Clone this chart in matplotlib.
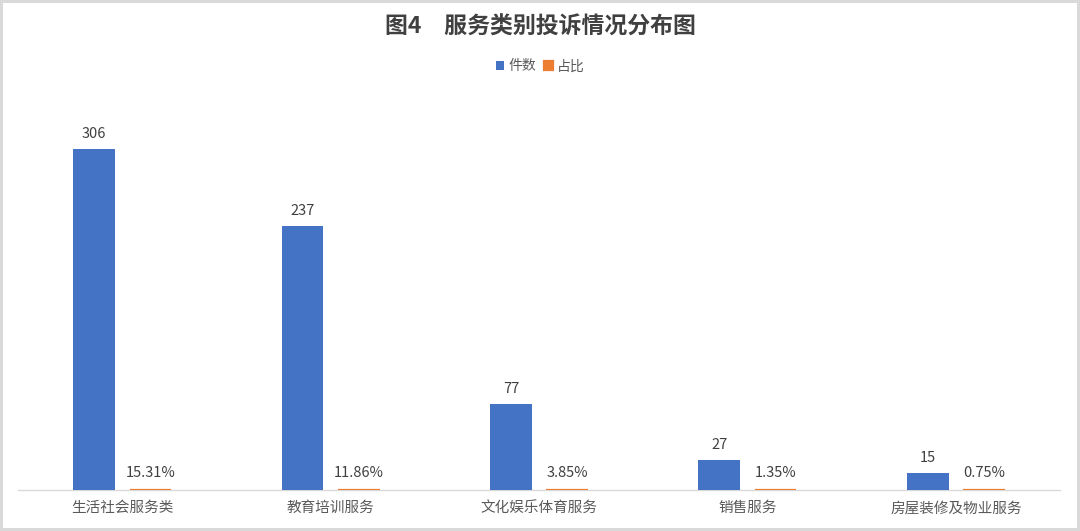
import matplotlib.pyplot as plt
import numpy as np

plt.rcParams['font.family'] = ['Noto Sans CJK SC', 'DejaVu Sans']

BLUE = "#4472C4"
ORANGE = "#ED7D31"
TEXT = "#595959"

categories = ["生活社会服务类", "教育培训服务", "文化娱乐体育服务", "销售服务", "房屋装修及物业服务"]
counts = [306, 237, 77, 27, 15]
shares = [0.1531, 0.1186, 0.0385, 0.0135, 0.0075]

fig = plt.figure(figsize=(10.8, 5.31), dpi=100)
fig.patch.set_facecolor("white")
fig.patch.set_edgecolor("#d9d9d9")
fig.patch.set_linewidth(3)
ax = fig.add_axes([0.0167, 0.0772, 0.9648, 0.7345])

x = np.arange(len(categories))
w = 0.2
off = 0.135
b1 = ax.bar(x - off, counts, w, color=BLUE, label="件数", zorder=3)
b2 = ax.bar(x + off, shares, w, color=ORANGE, edgecolor=ORANGE, linewidth=1.6,
            label="占比", zorder=3)

for xi, v in zip(x, counts):
    ax.annotate(f"{v}", (xi - off, v), xytext=(0, 6), textcoords="offset points",
                ha="center", va="bottom", fontsize=10.5, color="#404040")
for xi, v in zip(x, shares):
    ax.annotate(f"{v * 100:.2f}%", (xi + off, v), xytext=(0, 7), textcoords="offset points",
                ha="center", va="bottom", fontsize=10.5, color="#404040")

ax.set_xlim(-0.5, len(categories) - 0.5)
ax.set_ylim(0, 350)
ax.set_yticks([])
ax.set_xticks(x)
ax.set_xticklabels(categories, fontsize=10.5, color=TEXT)
ax.tick_params(axis="x", length=0, pad=8)
for side in ["top", "right", "left"]:
    ax.spines[side].set_visible(False)
ax.spines["bottom"].set_color("#d9d9d9")
ax.spines["bottom"].set_linewidth(1)

fig.text(0.5, 0.948, "图4　服务类别投诉情况分布图", ha="center", va="center",
         fontsize=16.5, fontweight="bold", color="#404040")
fig.legend(handles=[b1, b2], loc="center", bbox_to_anchor=(0.5, 0.875), ncol=2,
           frameon=False, fontsize=10, handlelength=0.6, handleheight=0.6,
           handletextpad=0.3, columnspacing=0.6, labelcolor=TEXT)

fig.savefig("out.png", dpi=100, facecolor="white", edgecolor=fig.patch.get_edgecolor())
